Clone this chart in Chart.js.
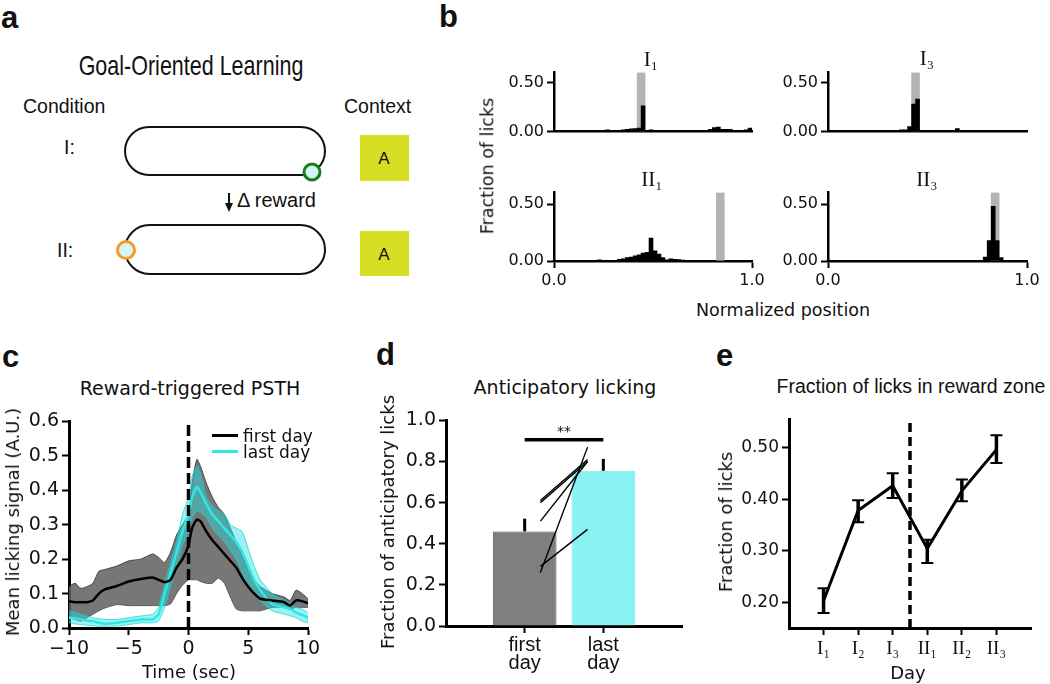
<!DOCTYPE html>
<html>
<head>
<meta charset="utf-8">
<title>Goal-oriented learning, licking behaviour</title>
<script src="https://cdn.jsdelivr.net/npm/chart.js@4.4.1/dist/chart.umd.min.js"></script>
<style>
  body { margin: 0; background: #fff; }
  #page { position: relative; width: 1050px; height: 684px; overflow: hidden; font-family: "Liberation Sans", Arial, sans-serif; color: #111; }
  canvas { position: absolute; }
  .t { position: absolute; white-space: nowrap; line-height: 1; z-index: 5; }
  .c { transform: translate(-50%, -50%); }
  .l { transform: translateY(-50%); }
  .r { transform: translate(-50%, -50%) rotate(-90deg); }
  .dv { font-family: "DejaVu Sans", sans-serif; }
  .sf { font-family: "Liberation Serif", "DejaVu Serif", serif; }
  .letter { font-weight: bold; font-size: 31px; }
</style>
</head>
<body>
<div id="page">

  <!-- panel a: schematic -->
  <svg style="position:absolute;left:0;top:0" width="440" height="300">
    <rect x="125" y="127" width="200" height="48" rx="24" fill="none" stroke="#111" stroke-width="2"/>
    <rect x="125" y="225" width="200" height="49" rx="24.5" fill="none" stroke="#111" stroke-width="2"/>
    <circle cx="312" cy="172" r="8" fill="#d3f5f6" stroke="#1e7b1e" stroke-width="3"/>
    <circle cx="126" cy="250" r="8.5" fill="#d3f5f6" stroke="#f59a23" stroke-width="3"/>
    <line x1="229" y1="193" x2="229" y2="205" stroke="#111" stroke-width="2"/>
    <polygon points="225,203 233,203 229,212" fill="#111"/>
    <rect x="360" y="135" width="49" height="46" fill="#d6df24"/>
    <rect x="360" y="231" width="49" height="45" fill="#d6df24"/>
  </svg>
  <div class="t letter" style="left:1px;top:2px">a</div>
  <div class="t" style="left:191px;top:67px;font-size:21.5px;transform:translate(-50%,-50%) scaleY(1.3)">Goal-Oriented Learning</div>
  <div class="t l" style="left:23px;top:107px;font-size:19.5px">Condition</div>
  <div class="t l" style="left:344px;top:107px;font-size:19.5px">Context</div>
  <div class="t l" style="left:64px;top:148px;font-size:19.5px">I:</div>
  <div class="t l" style="left:57px;top:251px;font-size:19.5px">II:</div>
  <div class="t l" style="left:237px;top:200px;font-size:20px">Δ reward</div>
  <div class="t c" style="left:384px;top:158px;font-size:17px">A</div>
  <div class="t c" style="left:384px;top:254px;font-size:17px">A</div>

  <!-- panel b -->
  <canvas id="hI1"></canvas>
  <canvas id="hI3"></canvas>
  <canvas id="hII1"></canvas>
  <canvas id="hII3"></canvas>
  <div class="t letter" style="left:439px;top:1px">b</div>
  <div class="t c sf" style="left:651px;top:59px;font-size:21px">I₁</div>
  <div class="t c sf" style="left:927px;top:58px;font-size:21px">I₃</div>
  <div class="t c sf" style="left:652px;top:179px;font-size:21px">II₁</div>
  <div class="t c sf" style="left:927px;top:179px;font-size:21px">II₃</div>
  <div class="t r dv" style="left:488px;top:166px;font-size:17.5px">Fraction of licks</div>
  <div class="t c dv" style="left:783px;top:311px;font-size:17.5px">Normalized position</div>

  <!-- panel c -->
  <canvas id="psth"></canvas>
  <div class="t letter" style="left:2px;top:341px">c</div>
  <div class="t c dv" style="left:190px;top:388px;font-size:19px">Reward-triggered PSTH</div>
  <div class="t r dv" style="left:13px;top:522px;font-size:18px">Mean licking signal (A.U.)</div>
  <div class="t c dv" style="left:189px;top:672px;font-size:18px">Time (sec)</div>
  <div style="position:absolute;left:212px;top:434px;width:26px;height:3px;background:#000;z-index:5"></div>
  <div style="position:absolute;left:212px;top:450px;width:26px;height:3px;background:#2ee8e8;z-index:5"></div>
  <div class="t l dv" style="left:243px;top:436px;font-size:17px">first day</div>
  <div class="t l dv" style="left:243px;top:452px;font-size:17px">last day</div>

  <!-- panel d -->
  <canvas id="antic"></canvas>
  <div class="t letter" style="left:376px;top:339px">d</div>
  <div class="t c dv" style="left:565px;top:387px;font-size:19px">Anticipatory licking</div>
  <div class="t r dv" style="left:388px;top:522px;font-size:18px">Fraction of anticipatory licks</div>

  <!-- panel e -->
  <canvas id="zone"></canvas>
  <div class="t letter" style="left:716px;top:340px">e</div>
  <div class="t c" style="left:911px;top:387px;font-size:19.5px">Fraction of licks in reward zone</div>
  <div class="t r dv" style="left:726px;top:522px;font-size:18px">Fraction of licks</div>
  <div class="t c dv" style="left:908px;top:673px;font-size:18px">Day</div>
</div>

<script>
// ---- panel b: lick histograms, 50 bins over normalized position ----
const binCenters = Array.from({ length: 50 }, (_, i) => (i + 0.5) / 50);
const histI1 = [0.012, 0.008, 0.005, 0.010, 0.010, 0.005, 0.010, 0.010, 0.008, 0.005,
                0.008, 0.008, 0.012, 0.015, 0.008, 0.003, 0.003, 0.015, 0.020, 0.025,
                0.030, 0.035, 0.260, 0.000, 0.015, 0, 0, 0, 0, 0,
                0, 0, 0, 0, 0, 0, 0.005, 0.010, 0.010, 0.020,
                0.040, 0.045, 0.020, 0.020, 0.020, 0.010, 0.010, 0.010, 0.015, 0.035];
const histI3 = [0, 0, 0, 0, 0, 0, 0, 0, 0, 0,
                0, 0, 0, 0.005, 0.005, 0.005, 0.010, 0.008, 0.015, 0.015,
                0.050, 0.280, 0.330, 0.012, 0, 0, 0, 0, 0, 0,
                0, 0.008, 0.030, 0, 0, 0, 0, 0, 0, 0,
                0, 0, 0, 0, 0, 0, 0, 0, 0, 0];
const histII1 = [0, 0, 0, 0, 0, 0, 0, 0, 0, 0,
                 0, 0.010, 0, 0, 0, 0, 0.015, 0.020, 0.030, 0.035,
                 0.045, 0.055, 0.070, 0.075, 0.200, 0.090, 0.060, 0.030, 0.010, 0.020,
                 0.015, 0.012, 0.008, 0.003, 0, 0, 0, 0, 0, 0,
                 0, 0, 0, 0, 0, 0, 0, 0, 0, 0];
const histII3 = [0, 0, 0, 0, 0, 0, 0, 0, 0, 0,
                 0, 0, 0, 0, 0, 0, 0, 0, 0, 0,
                 0, 0, 0, 0, 0, 0, 0, 0, 0, 0,
                 0, 0, 0, 0, 0, 0, 0, 0.003, 0.005, 0.035,
                 0.180, 0.480, 0.180, 0.030, 0, 0, 0, 0, 0, 0];
const zoneBinsI = [21, 22];
const zoneBinsII = [41, 42];

// ---- panel c: reward-triggered PSTH ----
const psthTime = [-10, -9.5, -9, -8.5, -8, -7.5, -7, -6, -5, -4, -3, -2.5, -2, -1.5, -1, -0.5, 0, 0.3, 0.7, 1,
                  1.5, 2, 2.5, 3, 3.5, 4, 4.5, 5, 5.5, 6, 7, 8, 8.5, 9, 9.5, 10];
const firstMean = [0.078, 0.075, 0.075, 0.075, 0.08, 0.1, 0.112, 0.122, 0.135, 0.142, 0.147, 0.14, 0.133, 0.14, 0.175, 0.2, 0.24, 0.29, 0.315, 0.31,
                   0.28, 0.255, 0.235, 0.215, 0.195, 0.175, 0.145, 0.12, 0.1, 0.085, 0.08, 0.075, 0.065, 0.08, 0.078, 0.072];
const firstHi = [0.12, 0.13, 0.115, 0.12, 0.13, 0.165, 0.17, 0.18, 0.195, 0.2, 0.215, 0.205, 0.19, 0.22, 0.27, 0.3, 0.33, 0.42, 0.49, 0.47,
                 0.42, 0.38, 0.35, 0.33, 0.29, 0.25, 0.21, 0.17, 0.14, 0.12, 0.1, 0.09, 0.08, 0.11, 0.1, 0.085];
const firstLo = [0.03, 0.025, 0.02, 0.03, 0.04, 0.05, 0.058, 0.068, 0.065, 0.065, 0.065, 0.065, 0.065, 0.07, 0.1, 0.125, 0.14, 0.14, 0.14, 0.135,
                 0.13, 0.13, 0.145, 0.13, 0.09, 0.055, 0.05, 0.05, 0.05, 0.05, 0.06, 0.06, 0.055, 0.06, 0.06, 0.06];
const lastMean = [0.03, 0.028, 0.025, 0.022, 0.02, 0.015, 0.012, 0.015, 0.02, 0.025, 0.025, 0.04, 0.1, 0.16, 0.22, 0.28, 0.33, 0.38, 0.41, 0.395,
                  0.36, 0.33, 0.31, 0.29, 0.27, 0.25, 0.22, 0.18, 0.14, 0.11, 0.07, 0.06, 0.055, 0.045, 0.038, 0.03];
const lastHi = [0.05, 0.045, 0.04, 0.035, 0.03, 0.027, 0.025, 0.025, 0.03, 0.035, 0.04, 0.06, 0.13, 0.19, 0.25, 0.33, 0.38, 0.44, 0.47, 0.45,
                0.38, 0.355, 0.34, 0.33, 0.3, 0.29, 0.28, 0.23, 0.18, 0.14, 0.1, 0.08, 0.07, 0.06, 0.055, 0.045];
const lastLo = [0.015, 0.012, 0.01, 0.008, 0.006, 0.005, 0.005, 0.006, 0.01, 0.015, 0.015, 0.02, 0.06, 0.12, 0.18, 0.24, 0.28, 0.32, 0.34, 0.335,
                0.32, 0.29, 0.27, 0.25, 0.225, 0.2, 0.16, 0.12, 0.1, 0.08, 0.05, 0.04, 0.035, 0.03, 0.02, 0.015];

// ---- panel d: anticipatory licking ----
const dayGroups = [["first", "day"], ["last", "day"]];
const anticMean = [0.46, 0.755];
const anticErr = [0.062, 0.058];
const miceFirst = [0.61, 0.60, 0.51, 0.26, 0.29];
const miceLast = [0.81, 0.80, 0.80, 0.87, 0.47];
const sigLevel = 0.906;

// ---- panel e: fraction of licks in reward zone ----
const days = ["I₁", "I₂", "I₃", "II₁", "II₂", "II₃"];
const zoneMean = [0.203, 0.378, 0.426, 0.304, 0.416, 0.496];
const zoneLo = [0.179, 0.355, 0.402, 0.276, 0.396, 0.470];
const zoneHi = [0.227, 0.398, 0.450, 0.321, 0.438, 0.524];

Chart.defaults.font.family = '"DejaVu Sans", sans-serif';
Chart.defaults.color = "#111";

// place a canvas so the chart area lands on [x0, y0, x1, y1]
function mount(id, area, yw, xh, top, right) {
  const cv = document.getElementById(id);
  const left = area[0] - yw;
  const t = area[1] - top;
  cv.width = area[2] - left + right;
  cv.height = area[3] + xh - t;
  cv.style.left = left + "px";
  cv.style.top = t + "px";
  return cv;
}

function axis(o) {
  const show = o.ticks.length > 0;
  return {
    type: "linear",
    min: o.min,
    max: o.max,
    offset: false,
    afterFit: o.fit,
    afterBuildTicks: (s) => { s.ticks = o.ticks.map((v) => ({ value: v })); },
    border: { display: true, color: "#000", width: o.lw || 2.5 },
    grid: { display: true, drawOnChartArea: false, offset: false, drawTicks: show,
            tickLength: 7, tickWidth: 2, tickColor: "#000" },
    ticks: { display: show, callback: o.fmt, padding: 3, maxRotation: 0, autoSkip: false,
             color: "#111", font: o.font || { size: 16 } },
  };
}

const base = (top, right) => ({
  responsive: false,
  animation: false,
  events: [],
  layout: { padding: { left: 0, bottom: 0, top: top, right: right } },
  plugins: { legend: { display: false }, tooltip: { enabled: false } },
});

// error bars drawn through the chart's own scales
const errorBars = {
  id: "errorBars",
  afterDatasetsDraw(chart, args, opts) {
    if (!opts.x) return;
    const { ctx } = chart;
    const xs = chart.scales.x, ys = chart.scales.y;
    ctx.save();
    ctx.strokeStyle = "#000";
    opts.x.forEach((xv, i) => {
      const px = xs.getPixelForValue(xv);
      const top = ys.getPixelForValue(opts.hi[i]);
      const bot = ys.getPixelForValue(opts.lo[i]);
      ctx.lineWidth = opts.width;
      ctx.beginPath();
      ctx.moveTo(px, bot);
      ctx.lineTo(px, top);
      ctx.stroke();
      if (opts.cap) {
        ctx.lineWidth = opts.capWidth;
        ctx.beginPath();
        ctx.moveTo(px - opts.cap, top); ctx.lineTo(px + opts.cap, top);
        ctx.moveTo(px - opts.cap, bot); ctx.lineTo(px + opts.cap, bot);
        ctx.stroke();
      }
    });
    if (opts.note) {
      ctx.fillStyle = "#111";
      ctx.font = opts.note.font;
      ctx.textAlign = "center";
      ctx.textBaseline = "middle";
      ctx.fillText(opts.note.text, xs.getPixelForValue(opts.note.x), ys.getPixelForValue(opts.note.y));
    }
    ctx.restore();
  },
};

// ---- histograms ----
function histogram(id, area, vals, zone, showX) {
  const yw = 60, xh = showX ? 30 : 4, top = 10, right = 16;
  const cv = mount(id, area, yw, xh, top, right);
  const opts = base(top, right);
  opts.scales = {
    x: axis({ min: 0, max: 1, ticks: showX ? [0, 1] : [], fmt: (v) => v.toFixed(1),
              fit: (s) => { s.height = xh; } }),
    y: axis({ min: 0, max: 0.6, ticks: [0, 0.5], fmt: (v) => v.toFixed(2),
              fit: (s) => { s.width = yw; } }),
  };
  new Chart(cv, {
    type: "bar",
    data: {
      datasets: [
        { data: binCenters.map((x, i) => ({ x, y: vals[i] })), backgroundColor: "#000",
          grouped: false, barPercentage: 1, categoryPercentage: 1, borderWidth: 0 },
        { data: zone.map((i) => ({ x: binCenters[i], y: 0.6 })), backgroundColor: "#b3b3b3",
          grouped: false, barPercentage: 1, categoryPercentage: 1, borderWidth: 0 },
      ],
    },
    options: opts,
  });
}

histogram("hI1", [554, 70, 752, 140], histI1, zoneBinsI, false);
histogram("hI3", [828, 70, 1027, 140], histI3, zoneBinsI, false);
histogram("hII1", [554, 190, 752, 261], histII1, zoneBinsII, true);
histogram("hII3", [828, 190, 1027, 261], histII3, zoneBinsII, true);

// ---- PSTH ----
(function () {
  const yw = 62, xh = 40, top = 12, right = 18;
  const cv = mount("psth", [69, 419, 308, 628], yw, xh, top, right);
  const opts = base(top, right);
  const f = { size: 19 };
  opts.scales = {
    x: axis({ min: -10, max: 10, ticks: [-10, -5, 0, 5, 10], font: f, lw: 3,
              fmt: (v) => String(v).replace("-", "\u2212"), fit: (s) => { s.height = xh; } }),
    y: axis({ min: 0, max: 0.6, ticks: [0, 0.1, 0.2, 0.3, 0.4, 0.5, 0.6], font: f, lw: 3,
              fmt: (v) => v.toFixed(1), fit: (s) => { s.width = yw; } }),
  };
  const pts = (arr) => psthTime.map((t, i) => ({ x: t, y: arr[i] }));
  const band = { pointRadius: 0, borderWidth: 1, tension: 0.2 };
  new Chart(cv, {
    type: "line",
    data: {
      datasets: [
        Object.assign({ data: pts(firstLo), borderColor: "rgba(60,60,60,0.9)", fill: false, order: 7 }, band),
        Object.assign({ data: pts(firstHi), borderColor: "rgba(60,60,60,0.9)", fill: "-1",
                        backgroundColor: "rgba(95,95,95,0.85)", order: 6 }, band),
        Object.assign({ data: pts(lastLo), borderColor: "rgba(0,215,215,0.7)", fill: false, order: 5 }, band),
        Object.assign({ data: pts(lastHi), borderColor: "rgba(0,215,215,0.7)", fill: "-1",
                        backgroundColor: "rgba(40,225,225,0.45)", order: 4 }, band),
        { data: pts(lastMean), borderColor: "#2ee8e8", borderWidth: 2.5, pointRadius: 0, tension: 0.2, order: 3 },
        { data: pts(firstMean), borderColor: "#000", borderWidth: 2.5, pointRadius: 0, tension: 0.2, order: 2 },
        { data: [{ x: 0, y: 0 }, { x: 0, y: 0.6 }], borderColor: "#000", borderWidth: 3.5,
          borderDash: [11, 5], pointRadius: 0, order: 1 },
      ],
    },
    options: opts,
  });
})();

// ---- anticipatory licking ----
(function () {
  const yw = 62, xh = 50, top = 12, right = 12;
  const cv = mount("antic", [446, 418, 682, 626], yw, xh, top, right);
  const opts = base(top, right);
  const f = { size: 19 };
  opts.scales = {
    x: axis({ min: -1, max: 2, ticks: [0, 1], lw: 3,
              font: { family: '"Liberation Sans", Arial, sans-serif', size: 20, lineHeight: 0.92 },
              fmt: (v) => dayGroups[v], fit: (s) => { s.height = xh; } }),
    y: axis({ min: 0, max: 1, ticks: [0, 0.2, 0.4, 0.6, 0.8, 1.0], font: f, lw: 3,
              fmt: (v) => v.toFixed(1), fit: (s) => { s.width = yw; } }),
  };
  opts.plugins.errorBars = {
    x: [0, 1], lo: anticMean, hi: anticMean.map((m, i) => m + anticErr[i]), width: 3,
    note: { text: "**", x: 0.5, y: sigLevel + 0.035, font: '14px "DejaVu Sans"' },
  };
  const mice = miceFirst.map((a, i) => ({
    type: "line", data: [{ x: 0.2, y: a }, { x: 0.8, y: miceLast[i] }],
    borderColor: "#000", borderWidth: 1.4, pointRadius: 0, order: 1,
  }));
  new Chart(cv, {
    type: "bar",
    data: {
      datasets: [
        { type: "bar", data: anticMean.map((m, i) => ({ x: i, y: m })),
          backgroundColor: ["#7f7f7f", "#8af2f2"], borderColor: ["#555", "#70eded"], borderWidth: 1,
          barPercentage: 0.81, categoryPercentage: 1, order: 3 },
        ...mice,
        { type: "line", data: [{ x: 0, y: sigLevel }, { x: 1, y: sigLevel }], borderColor: "#000",
          borderWidth: 3.5, pointRadius: 0, order: 1 },
      ],
    },
    options: opts,
    plugins: [errorBars],
  });
})();

// ---- fraction of licks in reward zone ----
(function () {
  const yw = 62, xh = 40, top = 12, right = 12;
  const cv = mount("zone", [789, 418, 1031, 628], yw, xh, top, right);
  const opts = base(top, right);
  opts.scales = {
    x: axis({ min: -1, max: 6, ticks: [0, 1, 2, 3, 4, 5], lw: 3,
              font: { family: '"Liberation Serif", "DejaVu Serif", serif', size: 19 },
              fmt: (v) => days[v], fit: (s) => { s.height = xh; } }),
    y: axis({ min: 0.15, max: 0.555, ticks: [0.2, 0.3, 0.4, 0.5], lw: 3, font: { size: 17 },
              fmt: (v) => v.toFixed(2), fit: (s) => { s.width = yw; } }),
  };
  opts.plugins.errorBars = { x: [0, 1, 2, 3, 4, 5], lo: zoneLo, hi: zoneHi, width: 3.5, cap: 6, capWidth: 2 };
  new Chart(cv, {
    type: "line",
    data: {
      datasets: [
        { data: zoneMean.map((m, i) => ({ x: i, y: m })), borderColor: "#000", borderWidth: 3,
          pointRadius: 0, tension: 0 },
        { data: [{ x: 2.5, y: 0.15 }, { x: 2.5, y: 0.555 }], borderColor: "#000", borderWidth: 3.5,
          borderDash: [9, 5], pointRadius: 0 },
      ],
    },
    options: opts,
    plugins: [errorBars],
  });
})();
</script>
</body>
</html>
